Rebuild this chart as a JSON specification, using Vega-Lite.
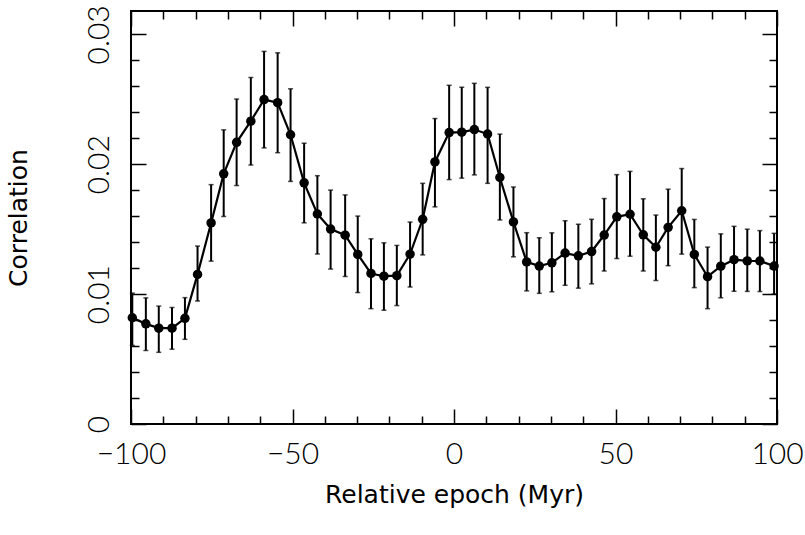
{
  "$schema": "https://vega.github.io/schema/vega-lite/v6.json",
  "autosize": "none",
  "width": 646,
  "height": 413,
  "padding": {"left": 131, "top": 11, "right": 28, "bottom": 111},
  "background": "white",
  "config": {
    "view": {"stroke": "black", "strokeWidth": 2},
    "axis": {
      "domain": false,
      "grid": false,
      "tickColor": "black",
      "tickWidth": 1.5,
      "labelColor": "black",
      "labelFont": "Lato",
      "labelFontWeight": 300,
      "labelFontSize": 30,
      "labelFlush": false,
      "labelOverlap": false,
      "labelBound": false,
      "titleColor": "black",
      "titleFont": "DejaVu Sans",
      "titleFontWeight": "normal",
      "titleFontSize": 25
    }
  },
  "data": {"values": [
    {"x": -99.6, "v": 0.00818, "lo": 0.00605, "hi": 0.01008},
    {"x": -95.4, "v": 0.00771, "lo": 0.00566, "hi": 0.00971},
    {"x": -91.4, "v": 0.00738, "lo": 0.00552, "hi": 0.00908},
    {"x": -87.3, "v": 0.00738, "lo": 0.00576, "hi": 0.00897},
    {"x": -83.3, "v": 0.00814, "lo": 0.00652, "hi": 0.00973},
    {"x": -79.4, "v": 0.01152, "lo": 0.00947, "hi": 0.0137},
    {"x": -75.2, "v": 0.01548, "lo": 0.01254, "hi": 0.01843},
    {"x": -71.3, "v": 0.01926, "lo": 0.01598, "hi": 0.02265},
    {"x": -67.3, "v": 0.02169, "lo": 0.01836, "hi": 0.02502},
    {"x": -62.9, "v": 0.02332, "lo": 0.01994, "hi": 0.02668},
    {"x": -58.8, "v": 0.02498, "lo": 0.02126, "hi": 0.02869},
    {"x": -54.6, "v": 0.02474, "lo": 0.02089, "hi": 0.02858},
    {"x": -50.6, "v": 0.02227, "lo": 0.01868, "hi": 0.02581},
    {"x": -46.4, "v": 0.01857, "lo": 0.01549, "hi": 0.02162},
    {"x": -42.3, "v": 0.01617, "lo": 0.01309, "hi": 0.01912},
    {"x": -38.2, "v": 0.01501, "lo": 0.01193, "hi": 0.01801},
    {"x": -33.7, "v": 0.01454, "lo": 0.01136, "hi": 0.01764},
    {"x": -29.8, "v": 0.01306, "lo": 0.01012, "hi": 0.01601},
    {"x": -25.7, "v": 0.01159, "lo": 0.00888, "hi": 0.01426},
    {"x": -21.7, "v": 0.01138, "lo": 0.00876, "hi": 0.01395},
    {"x": -17.7, "v": 0.01142, "lo": 0.00912, "hi": 0.01375},
    {"x": -13.6, "v": 0.01308, "lo": 0.01055, "hi": 0.01555},
    {"x": -9.7, "v": 0.01576, "lo": 0.01302, "hi": 0.01853},
    {"x": -5.9, "v": 0.02018, "lo": 0.01672, "hi": 0.02352},
    {"x": -1.5, "v": 0.02244, "lo": 0.01882, "hi": 0.02608},
    {"x": 2.4, "v": 0.02247, "lo": 0.01893, "hi": 0.02593},
    {"x": 6.3, "v": 0.02267, "lo": 0.01918, "hi": 0.02623},
    {"x": 10.4, "v": 0.02233, "lo": 0.01853, "hi": 0.02592},
    {"x": 14.2, "v": 0.01898, "lo": 0.01571, "hi": 0.02232},
    {"x": 18.4, "v": 0.01556, "lo": 0.01287, "hi": 0.01825},
    {"x": 22.5, "v": 0.01248, "lo": 0.01025, "hi": 0.01473},
    {"x": 26.4, "v": 0.01216, "lo": 0.01006, "hi": 0.01434},
    {"x": 30.3, "v": 0.01241, "lo": 0.01018, "hi": 0.01472},
    {"x": 34.4, "v": 0.01316, "lo": 0.01068, "hi": 0.01565},
    {"x": 38.5, "v": 0.01295, "lo": 0.01046, "hi": 0.01538},
    {"x": 42.6, "v": 0.01328, "lo": 0.01079, "hi": 0.01576},
    {"x": 46.5, "v": 0.01455, "lo": 0.01178, "hi": 0.01736},
    {"x": 50.4, "v": 0.01595, "lo": 0.01274, "hi": 0.0192},
    {"x": 54.5, "v": 0.01615, "lo": 0.01292, "hi": 0.01945},
    {"x": 58.6, "v": 0.01457, "lo": 0.01178, "hi": 0.01734},
    {"x": 62.5, "v": 0.01361, "lo": 0.01105, "hi": 0.01609},
    {"x": 66.3, "v": 0.01514, "lo": 0.01219, "hi": 0.01808},
    {"x": 70.5, "v": 0.01642, "lo": 0.01308, "hi": 0.01967},
    {"x": 74.4, "v": 0.01306, "lo": 0.0105, "hi": 0.01575},
    {"x": 78.5, "v": 0.01134, "lo": 0.00888, "hi": 0.01362},
    {"x": 82.6, "v": 0.01215, "lo": 0.00972, "hi": 0.01464},
    {"x": 86.7, "v": 0.01265, "lo": 0.01022, "hi": 0.01522},
    {"x": 90.8, "v": 0.01256, "lo": 0.01021, "hi": 0.015},
    {"x": 94.7, "v": 0.01255, "lo": 0.0102, "hi": 0.01489},
    {"x": 99.1, "v": 0.01216, "lo": 0.01001, "hi": 0.01468}
  ]},
  "layer": [
    {
      "layer": [
        {
          "mark": {"type": "rule", "color": "black", "strokeWidth": 2},
          "encoding": {
            "x": {"field": "x", "type": "quantitative", "scale": {"domain": [-100, 100], "nice": false, "zero": false}},
            "y": {"field": "lo", "type": "quantitative", "scale": {"domain": [0, 0.0318], "nice": false, "zero": false}},
            "y2": {"field": "hi"}
          }
        },
        {
          "mark": {"type": "tick", "orient": "horizontal", "color": "black", "size": 5, "thickness": 1.5},
          "encoding": {
            "x": {"field": "x", "type": "quantitative"},
            "y": {"field": "lo", "type": "quantitative"}
          }
        },
        {
          "mark": {"type": "tick", "orient": "horizontal", "color": "black", "size": 5, "thickness": 1.5},
          "encoding": {
            "x": {"field": "x", "type": "quantitative"},
            "y": {"field": "hi", "type": "quantitative"}
          }
        },
        {
          "mark": {"type": "line", "color": "black", "strokeWidth": 2.2},
          "encoding": {
            "x": {"field": "x", "type": "quantitative"},
            "y": {"field": "v", "type": "quantitative"}
          }
        },
        {
          "mark": {"type": "circle", "color": "black", "opacity": 1, "size": 90},
          "encoding": {
            "x": {
              "field": "x", "type": "quantitative",
              "axis": {
                "orient": "bottom",
                "title": "Relative epoch (Myr)",
                "values": [-100, -50, 0, 50, 100],
                "labelExpr": "datum.value < 0 ? '−' + abs(datum.value) : '' + datum.value",
                "labelOverlap": false,
                "tickSize": -15,
                "labelPadding": 30,
                "titlePadding": 13
              }
            },
            "y": {
              "field": "v", "type": "quantitative",
              "axis": {
                "orient": "left",
                "title": "Correlation",
                "values": [0, 0.01, 0.02, 0.03],
                "labelExpr": "datum.value === 0 ? '0' : format(datum.value, '.2f')",
                "labelOverlap": false,
                "tickSize": -15,
                "labelAngle": -90,
                "labelAlign": "center",
                "labelBaseline": "bottom",
                "labelPadding": 32,
                "titlePadding": 53
              }
            }
          }
        }
      ]
    },
    {
      "mark": {"type": "circle", "opacity": 0},
      "encoding": {
        "x": {
          "field": "x", "type": "quantitative",
          "scale": {"domain": [-100, 100], "nice": false, "zero": false},
          "axis": {
            "orient": "bottom",
            "title": null,
            "labels": false,
            "values": [-90, -80, -70, -60, -40, -30, -20, -10, 10, 20, 30, 40, 60, 70, 80, 90],
            "tickSize": -8
          }
        },
        "y": {
          "field": "v", "type": "quantitative",
          "scale": {"domain": [0, 0.0318], "nice": false, "zero": false},
          "axis": {
            "orient": "left",
            "title": null,
            "labels": false,
            "values": [0.002, 0.004, 0.006, 0.008, 0.012, 0.014, 0.016, 0.018, 0.022, 0.024, 0.026, 0.028],
            "tickSize": -8
          }
        }
      }
    },
    {
      "mark": {"type": "circle", "opacity": 0},
      "encoding": {
        "x": {
          "field": "x", "type": "quantitative",
          "scale": {"domain": [-100, 100], "nice": false, "zero": false},
          "axis": {
            "orient": "top",
            "title": null,
            "labels": false,
            "values": [-100, -50, 0, 50, 100],
            "tickSize": -15
          }
        },
        "y": {
          "field": "v", "type": "quantitative",
          "scale": {"domain": [0, 0.0318], "nice": false, "zero": false},
          "axis": {
            "orient": "right",
            "title": null,
            "labels": false,
            "values": [0, 0.01, 0.02, 0.03],
            "tickSize": -15
          }
        }
      }
    },
    {
      "mark": {"type": "circle", "opacity": 0},
      "encoding": {
        "x": {
          "field": "x", "type": "quantitative",
          "scale": {"domain": [-100, 100], "nice": false, "zero": false},
          "axis": {
            "orient": "top",
            "title": null,
            "labels": false,
            "values": [-90, -80, -70, -60, -40, -30, -20, -10, 10, 20, 30, 40, 60, 70, 80, 90],
            "tickSize": -8
          }
        },
        "y": {
          "field": "v", "type": "quantitative",
          "scale": {"domain": [0, 0.0318], "nice": false, "zero": false},
          "axis": {
            "orient": "right",
            "title": null,
            "labels": false,
            "values": [0.002, 0.004, 0.006, 0.008, 0.012, 0.014, 0.016, 0.018, 0.022, 0.024, 0.026, 0.028],
            "tickSize": -8
          }
        }
      }
    }
  ],
  "resolve": {"axis": {"x": "independent", "y": "independent"}}
}
